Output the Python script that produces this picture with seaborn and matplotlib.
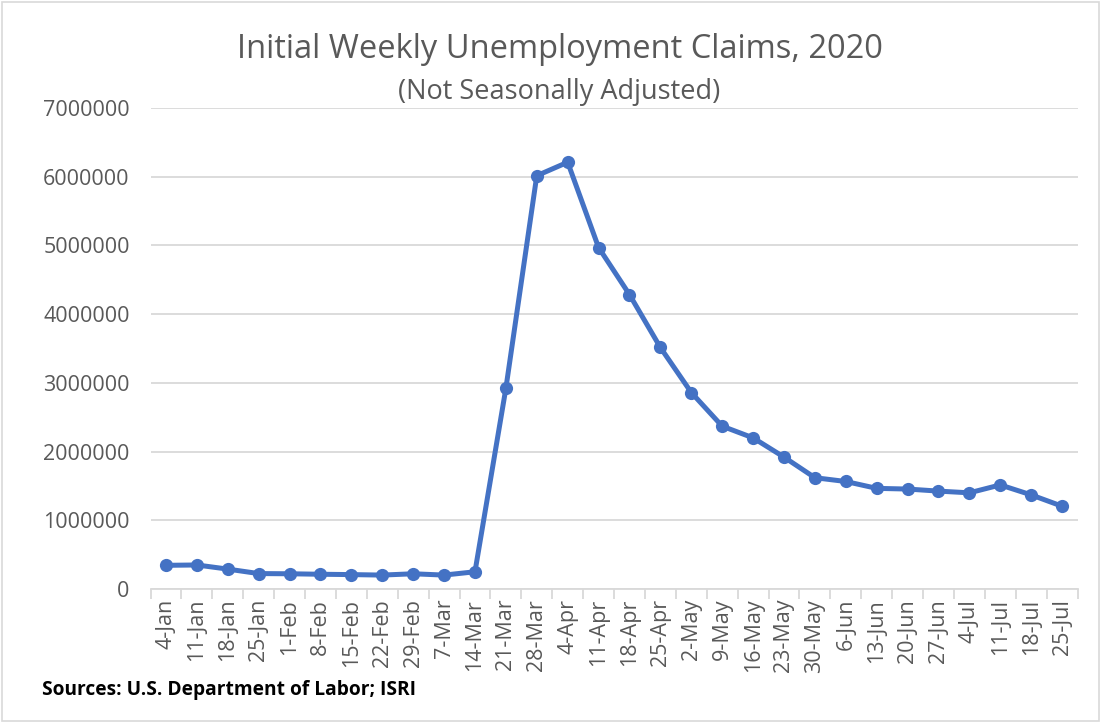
import matplotlib
matplotlib.use("Agg")
import matplotlib.pyplot as plt
import seaborn as sns
import pandas as pd
from matplotlib.ticker import FixedLocator

weeks = ["4-Jan", "11-Jan", "18-Jan", "25-Jan", "1-Feb", "8-Feb", "15-Feb", "22-Feb",
         "29-Feb", "7-Mar", "14-Mar", "21-Mar", "28-Mar", "4-Apr", "11-Apr", "18-Apr",
         "25-Apr", "2-May", "9-May", "16-May", "23-May", "30-May", "6-Jun", "13-Jun",
         "20-Jun", "27-Jun", "4-Jul", "11-Jul", "18-Jul", "25-Jul"]
claims = [345000, 350000, 290000, 225000, 222000, 215000, 210000, 203000,
          222000, 203000, 251000, 2920000, 6015000, 6211000, 4970000, 4285000,
          3515000, 2860000, 2370000, 2200000, 1920000, 1620000, 1565000, 1465000,
          1455000, 1425000, 1400000, 1515000, 1370000, 1205000]
yticks = [0, 1000000, 2000000, 3000000, 4000000, 5000000, 6000000, 7000000]

df = pd.DataFrame({"week": weeks, "claims": claims})

sns.set_theme(style="white")
plt.rcParams["font.family"] = ["Open Sans", "DejaVu Sans"]

fig = plt.figure(figsize=(11.01, 7.23), dpi=100)
ax = fig.add_axes([0.1367, 0.1853, 0.8420, 0.6653])

sns.lineplot(data=df, x="week", y="claims", sort=False, ax=ax, color="#4472C4",
             linewidth=3.6, marker="o", markersize=9.5, markeredgewidth=0, zorder=3)

ax.set_xlim(-0.5, len(weeks) - 0.5)
ax.set_ylim(0, 7000000)
ax.set_yticks(yticks)
ax.set_yticklabels([str(v) for v in yticks], fontsize=15.5, color="#595959")
ax.yaxis.grid(True, color="#D9D9D9", linewidth=1.3)
ax.xaxis.grid(False)
ax.set_xticks(range(len(weeks)))
ax.set_xticklabels(weeks, rotation=90, fontsize=15.5, color="#595959")
ax.tick_params(axis="x", length=0, pad=7)
ax.tick_params(axis="y", length=0, pad=15)
ax.xaxis.set_minor_locator(FixedLocator([i - 0.5 for i in range(len(weeks) + 1)]))
ax.tick_params(axis="x", which="minor", length=7, width=1.3, color="#D9D9D9", bottom=True)
ax.set_xlabel("")
ax.set_ylabel("")
for s in ["top", "right", "left"]:
    ax.spines[s].set_visible(False)
ax.spines["bottom"].set_color("#D9D9D9")
ax.spines["bottom"].set_linewidth(1.3)

fig.text(0.509, 0.932, "Initial Weekly Unemployment Claims, 2020", ha="center", va="center",
         fontsize=23.5, color="#595959")
fig.text(0.508, 0.873, "(Not Seasonally Adjusted)", ha="center", va="center",
         fontsize=19.5, color="#595959")
fig.text(0.038, 0.046, "Sources: U.S. Department of Labor; ISRI", ha="left", va="center",
         fontsize=13.8, fontweight="bold", color="black")

border = plt.Rectangle((0.002, 0.003), 0.996, 0.994, transform=fig.transFigure,
                       fill=False, edgecolor="#D9D9D9", linewidth=1.2)
fig.patches.append(border)

fig.savefig("out.png", dpi=100)
